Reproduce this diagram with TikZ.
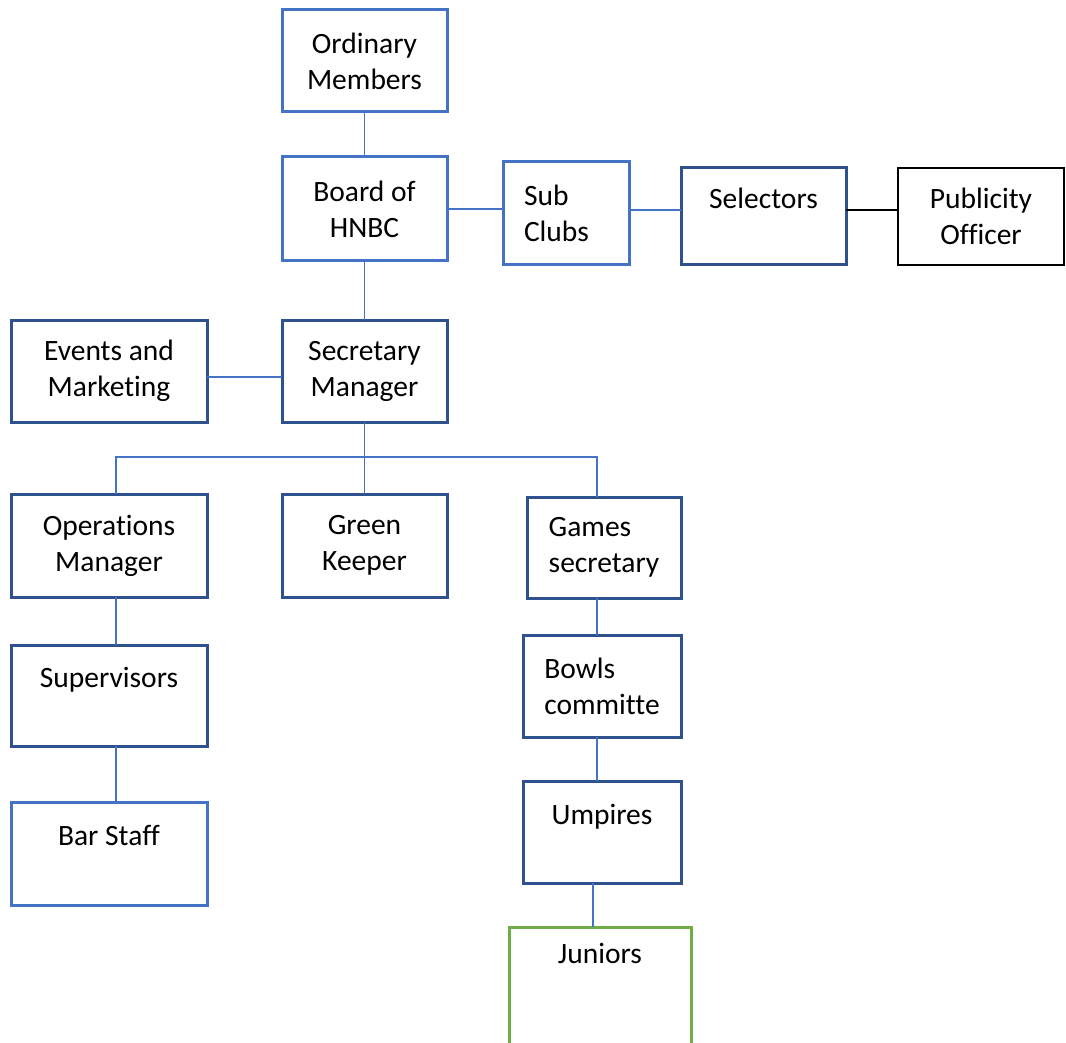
\documentclass[tikz,border=0pt]{standalone}
\usepackage{fontspec}
\setmainfont[Ligatures=NoCommon]{Carlito}
\definecolor{lblue}{HTML}{4472C4}
\definecolor{dblue}{HTML}{2F528F}
\definecolor{jgreen}{HTML}{70AD47}
\tikzset{
  base/.style={rectangle, inner sep=0pt, outer sep=0pt, line width=3pt, fill=white,
    font=\fontsize{29.5}{36}\selectfont, align=center},
  lbox/.style={base, draw=lblue},
  dbox/.style={base, draw=dblue},
  kbox/.style={base, draw=black, line width=2pt},
  gbox/.style={base, draw=jgreen},
  conn/.style={draw=lblue, line width=1.2pt},
  kconn/.style={draw=black, line width=2pt}
}
\begin{document}
\begin{tikzpicture}[x=1pt,y=-1pt]
\useasboundingbox (0,0) rectangle (1066,1043);
\clip (0,0) rectangle (1066,1043);
% top row
\node[lbox, minimum width=165, minimum height=102] (om) at (364.5,61) {Ordinary\\Members};
\node[lbox, minimum width=165, minimum height=104] (bd) at (364.5,209) {Board of\\HNBC};
\node[lbox, minimum width=126, minimum height=103, align=left, text width=84pt] (sc) at (566,213.5) {Sub\\Clubs};
\node[dbox, minimum width=165, minimum height=97] (sel) at (763.5,216.5) {Selectors\\[0pt]\mbox{}};
\node[kbox, minimum width=166, minimum height=97] (po) at (981,216.5) {Publicity\\Officer};
% second level
\node[dbox, minimum width=196, minimum height=102] (em) at (109,371) {Events and\\Marketing};
\node[dbox, minimum width=165, minimum height=102] (sm) at (364.5,371) {Secretary\\Manager};
% third level
\node[dbox, minimum width=196, minimum height=103] (ops) at (109,545.5) {Operations\\Manager};
\node[dbox, minimum width=165, minimum height=103] (gk) at (364.5,545.5) {Green\\Keeper};
\node[dbox, minimum width=154, minimum height=101, align=left] (gs) at (604,547.5) {Games\\secretary};
% lower left
\node[dbox, minimum width=196, minimum height=101] (sup) at (109,695.5) {Supervisors\\[0pt]\mbox{}};
\node[lbox, minimum width=196, minimum height=103] (bar) at (109,853.5) {Bar Staff\\[0pt]\mbox{}};
% lower right
\node[dbox, minimum width=158, minimum height=102, align=left] (bc) at (602,686) {Bowls\\committe};
\node[dbox, minimum width=158, minimum height=102] (ump) at (602,832) {Umpires\\[0pt]\mbox{}};
\node[gbox, minimum width=182, minimum height=140, text height=26pt, text depth=94pt] (jun) at (600,997) {Juniors};
\coordinate (bus) at (365,457);
% connectors
\draw[conn] (om.south) -- (bd.north);
\draw[conn] (bd.east) -- (bd.east -| sc.west);
\draw[conn] (sc.west |- 0,210) ++(126,0) coordinate (scE);
\draw[conn] (scE) -- (scE -| sel.west);
\draw[kconn] (sel.east |- 0,210) -- (po.west |- 0,210);
\draw[conn] (bd.south) -- (sm.north);
\draw[conn] (em.east |- 0,377) -- (sm.west |- 0,377);
\draw[conn] (sm.south) -- (gk.north);
\draw[conn] ([xshift=7pt]ops.north) |- (bus) -| ([xshift=-7pt]gs.north);
\draw[conn] ([xshift=7pt]ops.south) -- ([xshift=7pt]sup.north);
\draw[conn] ([xshift=7pt]sup.south) -- ([xshift=7pt]bar.north);
\draw[conn] ([xshift=-7pt]gs.south) -- ([xshift=-5pt]bc.north);
\draw[conn] ([xshift=-5pt]bc.south) -- ([xshift=-5pt]ump.north);
\draw[conn] ([xshift=-9pt]ump.south) -- ([xshift=-7pt]jun.north);
\end{tikzpicture}
\end{document}
